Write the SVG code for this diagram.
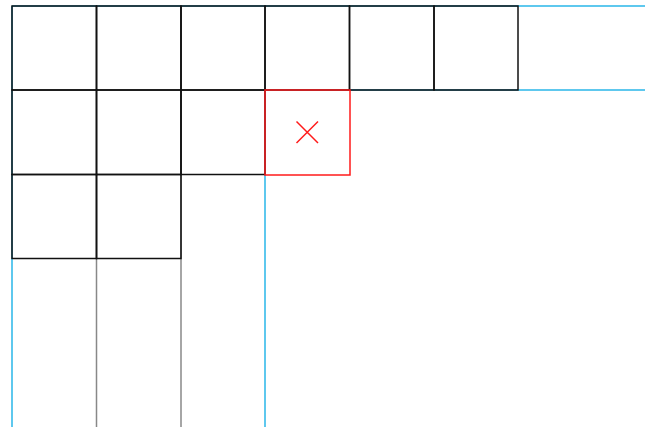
<svg xmlns="http://www.w3.org/2000/svg" width="650" height="427" viewBox="0 0 650 427">
<style>
.blue{stroke:#29b6e8;stroke-width:1.5;fill:none}
.gray{stroke:#888;stroke-width:1.5;fill:none}
.cell{stroke:#111;stroke-width:1.5;fill:none}
.red{stroke:#ff1a1a;stroke-width:1.5;fill:none}
</style>
<rect width="650" height="427" fill="#fff"/>
<g id="guides">
<line class="gray" x1="96.5" y1="6" x2="96.5" y2="427"/>
<line class="gray" x1="181" y1="6" x2="181" y2="427"/>
<line class="blue" x1="12" y1="6" x2="645" y2="6"/>
<line class="blue" x1="265" y1="90" x2="645" y2="90"/>
<line class="blue" x1="12" y1="6" x2="12" y2="427"/>
<line class="blue" x1="265" y1="90" x2="265" y2="427"/>
</g>
<g id="row1">
<rect class="cell" x="12" y="6" width="84.5" height="84"/>
<rect class="cell" x="96.5" y="6" width="84.5" height="84"/>
<rect class="cell" x="181" y="6" width="84" height="84"/>
<rect class="cell" x="265" y="6" width="84.5" height="84"/>
<rect class="cell" x="349.5" y="6" width="84.5" height="84"/>
<rect class="cell" x="434" y="6" width="84" height="84"/>
</g>
<g id="row2">
<rect class="cell" x="12" y="90" width="84.5" height="84.5"/>
<rect class="cell" x="96.5" y="90" width="84.5" height="84.5"/>
<rect class="cell" x="181" y="90" width="84" height="84.5"/>
</g>
<g id="row3">
<rect class="cell" x="12" y="174.5" width="84.5" height="84"/>
<rect class="cell" x="96.5" y="174.5" width="84.5" height="84"/>
</g>
<g id="removed">
<rect class="red" x="265" y="90" width="85" height="85"/>
<path class="red" d="M296.5 121.5L318 143M318 121.5L296.5 143"/>
</g>
</svg>
